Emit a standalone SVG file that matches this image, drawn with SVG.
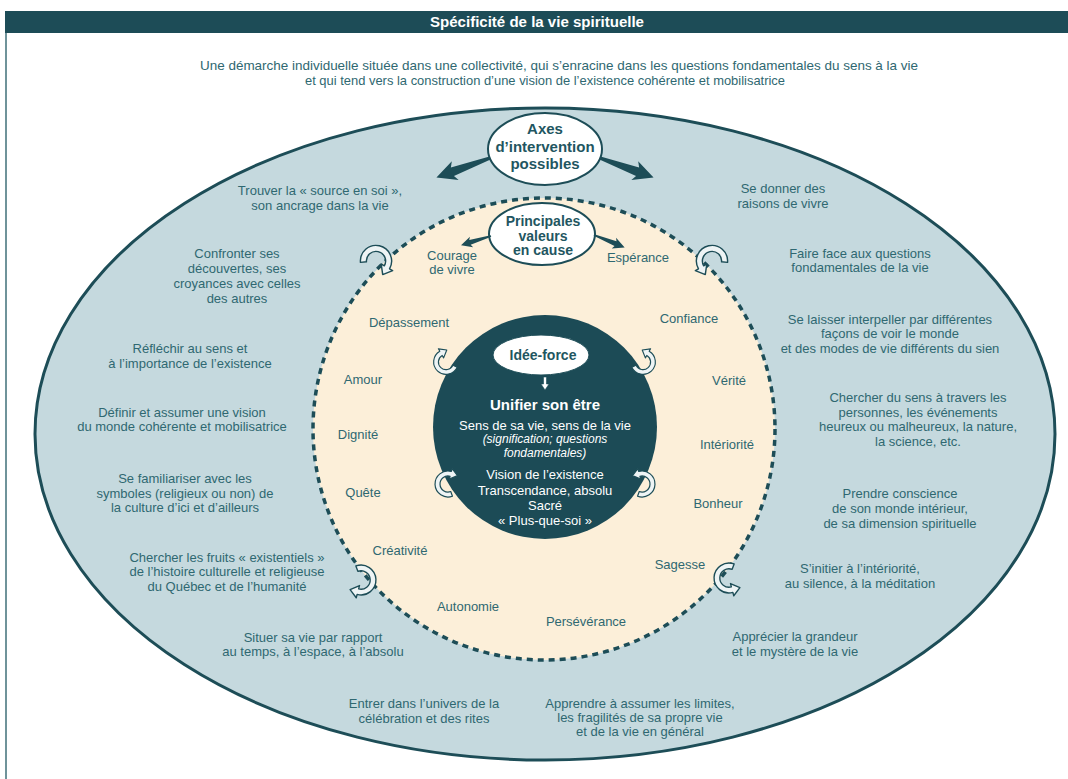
<svg xmlns="http://www.w3.org/2000/svg" width="1068" height="779" viewBox="0 0 1068 779">
<style>
  text { font-family: "Liberation Sans", Arial, sans-serif; }
  .t { font-size: 13px; fill: #2f6871; text-anchor: middle; }
  .v { font-size: 13px; fill: #2f6871; text-anchor: middle; }
  .b { font-weight: bold; fill: #1f5661; text-anchor: middle; }
  .w { fill: #ffffff; text-anchor: middle; }
  .curl { fill: #eef4f5; stroke: #1d4d57; stroke-width: 1.2; stroke-linejoin: round; }
  .thick { fill: #1d4d57; }
</style>
<defs>
  <path id="curl" d="M -12.22 4.45 A 13 13 0 1 1 12.56 3.36 L 15.45 4.14 L 8.33 9.48 L 4.83 1.29 L 7.73 2.07 A 8 8 0 1 0 -7.52 2.74 Z"/>
  <polygon id="thk" points="0,-1.5 40,-4.5 37,-10 57,0 37,10 40,4.5 0,1.5"/>
</defs>
<rect width="1068" height="779" fill="#ffffff"/>

<g id="frame">
  <line x1="6" y1="31" x2="6" y2="779" stroke="#3f6f79" stroke-width="1.5"/>
  <rect x="5" y="11" width="1063" height="22" fill="#1d4c57"/>
  <text x="537" y="27" font-size="14" font-weight="bold" fill="#ffffff" text-anchor="middle" textLength="214" lengthAdjust="spacingAndGlyphs">Spécificité de la vie spirituelle</text>
</g>

<g id="subtitle">
  <text class="t" x="559" y="70" font-size="12" textLength="718" lengthAdjust="spacingAndGlyphs">Une démarche individuelle située dans une collectivité, qui s’enracine dans les questions fondamentales du sens à la vie</text>
  <text class="t" x="545" y="85" font-size="12" textLength="480" lengthAdjust="spacingAndGlyphs">et qui tend vers la construction d’une vision de l’existence cohérente et mobilisatrice</text>
</g>

<g id="outer-ring">
  <ellipse cx="545" cy="434" rx="510" ry="326" fill="#c5d9de" stroke="#1d4d57" stroke-width="3"/>
</g>
<g id="inner-circle">
  <circle cx="544" cy="429" r="231" fill="#fcefd9" stroke="#1d4d57" stroke-width="3.5" stroke-dasharray="6 5"/>
</g>
<g id="core">
  <circle cx="545" cy="427" r="112" fill="#1c4b56"/>
  <text class="w" x="545" y="410" font-size="15" font-weight="bold">Unifier son être</text>
  <text class="w" x="545" y="430" font-size="13">Sens de sa vie, sens de la vie</text>
  <text class="w" x="545" y="443" font-size="12" font-style="italic">(signification; questions</text>
  <text class="w" x="545" y="457" font-size="12" font-style="italic">fondamentales)</text>
  <text class="w" x="545" y="479" font-size="13">Vision de l’existence</text>
  <text class="w" x="545" y="495" font-size="13">Transcendance, absolu</text>
  <text class="w" x="545" y="510" font-size="13">Sacré</text>
  <text class="w" x="545" y="525" font-size="13">« Plus-que-soi »</text>
</g>

<g id="idee-force">
  <ellipse cx="541" cy="355" rx="48" ry="20" fill="#ffffff" stroke="#1d4d57" stroke-width="1"/>
  <text class="b" x="543" y="360" font-size="14">Idée-force</text>
</g>

<g id="axes">
  <ellipse cx="545" cy="149" rx="57" ry="36" fill="#ffffff" stroke="#1d4d57" stroke-width="2"/>
  <text class="b" x="545" y="134" font-size="15">Axes</text>
  <text class="b" x="545" y="152" font-size="15">d’intervention</text>
  <text class="b" x="545" y="169" font-size="15">possibles</text>
</g>

<g id="principales">
  <ellipse cx="542" cy="234" rx="53" ry="31" fill="#ffffff" stroke="#1d4d57" stroke-width="2"/>
  <text class="b" x="543" y="226" font-size="14">Principales</text>
  <text class="b" x="543" y="241" font-size="14">valeurs</text>
  <text class="b" x="543" y="255" font-size="14">en cause</text>
</g>

<g id="connectors">
  <use href="#thk" class="thick" transform="translate(490,158) rotate(160)"/>
  <use href="#thk" class="thick" transform="translate(600,158) rotate(20)"/>
  <use href="#thk" class="thick" transform="translate(491,236) rotate(163) scale(0.55)"/>
  <use href="#thk" class="thick" transform="translate(594,235) rotate(22) scale(0.58)"/>
  <path d="M 543.5 377 L 546.5 377 L 546.5 384 L 549 384 L 545 390 L 541 384 L 543.5 384 Z" fill="#ffffff" stroke="#1d4d57" stroke-width="0.6"/>
  <use href="#curl" class="curl" transform="translate(376,261) rotate(15) scale(1.2)"/>
  <use href="#curl" class="curl" transform="translate(712,261) scale(-1,1) rotate(15) scale(1.2)"/>
  <use href="#curl" class="curl" transform="translate(361,580) rotate(90) scale(1.15)"/>
  <use href="#curl" class="curl" transform="translate(729,578) scale(-1,1) rotate(90) scale(1.15)"/>
  <use href="#curl" class="curl" transform="translate(446,362) rotate(-135) scale(0.95)"/>
  <use href="#curl" class="curl" transform="translate(643,362) scale(-1,1) rotate(-135) scale(0.95)"/>
  <use href="#curl" class="curl" transform="translate(448,484) rotate(-90) scale(1)"/>
  <use href="#curl" class="curl" transform="translate(642,484) scale(-1,1) rotate(-90) scale(1)"/>
</g>

<g id="values">
  <g id="v-courage"><text class="v" x="452" y="260">Courage</text><text class="v" x="452" y="274">de vivre</text></g>
  <g id="v-esperance"><text class="v" x="638" y="262">Espérance</text></g>
  <g id="v-depassement"><text class="v" x="409" y="327">Dépassement</text></g>
  <g id="v-confiance"><text class="v" x="689" y="323">Confiance</text></g>
  <g id="v-amour"><text class="v" x="363" y="384">Amour</text></g>
  <g id="v-verite"><text class="v" x="729" y="385">Vérité</text></g>
  <g id="v-dignite"><text class="v" x="358" y="439">Dignité</text></g>
  <g id="v-interiorite"><text class="v" x="727" y="449">Intériorité</text></g>
  <g id="v-quete"><text class="v" x="363" y="497">Quête</text></g>
  <g id="v-bonheur"><text class="v" x="718" y="508">Bonheur</text></g>
  <g id="v-creativite"><text class="v" x="400" y="555">Créativité</text></g>
  <g id="v-sagesse"><text class="v" x="680" y="569">Sagesse</text></g>
  <g id="v-autonomie"><text class="v" x="468" y="611">Autonomie</text></g>
  <g id="v-perseverance"><text class="v" x="586" y="626">Persévérance</text></g>
</g>

<g id="axes-texts">
  <g id="a-trouver"><text class="t" x="320" y="195">Trouver la « source en soi »,</text><text class="t" x="320" y="210">son ancrage dans la vie</text></g>
  <g id="a-donner"><text class="t" x="783" y="193">Se donner des</text><text class="t" x="783" y="208">raisons de vivre</text></g>
  <g id="a-confronter"><text class="t" x="237" y="258">Confronter ses</text><text class="t" x="237" y="273">découvertes, ses</text><text class="t" x="237" y="288">croyances avec celles</text><text class="t" x="237" y="303">des autres</text></g>
  <g id="a-faire-face"><text class="t" x="860" y="258">Faire face aux questions</text><text class="t" x="860" y="272">fondamentales de la vie</text></g>
  <g id="a-reflechir"><text class="t" x="190" y="353">Réfléchir au sens et</text><text class="t" x="190" y="368">à l’importance de l’existence</text></g>
  <g id="a-laisser"><text class="t" x="890" y="324">Se laisser interpeller par différentes</text><text class="t" x="890" y="338">façons de voir le monde</text><text class="t" x="890" y="353">et des modes de vie différents du sien</text></g>
  <g id="a-definir"><text class="t" x="182" y="417">Définir et assumer une vision</text><text class="t" x="182" y="431">du monde cohérente et mobilisatrice</text></g>
  <g id="a-chercher-sens"><text class="t" x="918" y="402">Chercher du sens à travers les</text><text class="t" x="918" y="417">personnes, les événements</text><text class="t" x="918" y="431">heureux ou malheureux, la nature,</text><text class="t" x="918" y="446">la science, etc.</text></g>
  <g id="a-familiariser"><text class="t" x="185" y="483">Se familiariser avec les</text><text class="t" x="185" y="498">symboles (religieux ou non) de</text><text class="t" x="185" y="512">la culture d’ici et d’ailleurs</text></g>
  <g id="a-prendre"><text class="t" x="900" y="498">Prendre conscience</text><text class="t" x="900" y="513">de son monde intérieur,</text><text class="t" x="900" y="528">de sa dimension spirituelle</text></g>
  <g id="a-fruits"><text class="t" x="227" y="562">Chercher les fruits « existentiels »</text><text class="t" x="227" y="576">de l’histoire culturelle et religieuse</text><text class="t" x="227" y="591">du Québec et de l’humanité</text></g>
  <g id="a-initier"><text class="t" x="860" y="573">S’initier à l’intériorité,</text><text class="t" x="860" y="588">au silence, à la méditation</text></g>
  <g id="a-situer"><text class="t" x="313" y="642">Situer sa vie par rapport</text><text class="t" x="313" y="656">au temps, à l’espace, à l’absolu</text></g>
  <g id="a-apprecier"><text class="t" x="795" y="641">Apprécier la grandeur</text><text class="t" x="795" y="656">et le mystère de la vie</text></g>
  <g id="a-entrer"><text class="t" x="424" y="708">Entrer dans l’univers de la</text><text class="t" x="424" y="723">célébration et des rites</text></g>
  <g id="a-apprendre"><text class="t" x="640" y="708">Apprendre à assumer les limites,</text><text class="t" x="640" y="722">les fragilités de sa propre vie</text><text class="t" x="640" y="736">et de la vie en général</text></g>
</g>
</svg>
